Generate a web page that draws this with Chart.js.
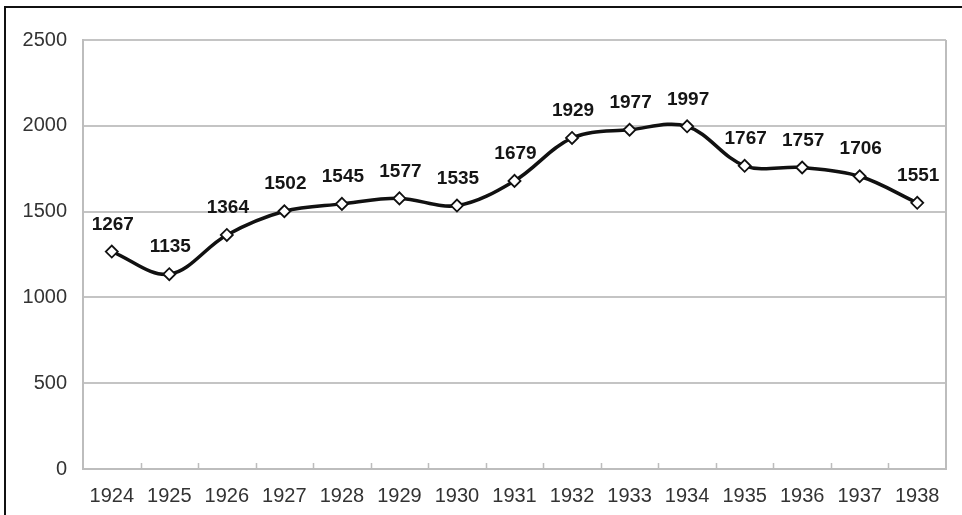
<!DOCTYPE html>
<html>
<head>
<meta charset="utf-8">
<script src="https://cdn.jsdelivr.net/npm/chart.js@4/dist/chart.umd.min.js"></script>
<style>
  html, body { margin: 0; padding: 0; background: #fff; }
  #wrap { position: relative; width: 962px; height: 515px; }
  #frame { position: absolute; left: 4px; top: 6px; right: 0; bottom: 0;
           border-left: 2px solid #111; border-top: 2px solid #111; pointer-events: none; }
  canvas { position: absolute; left: 0; top: 0; }
</style>
</head>
<body>
<div id="wrap">
  <canvas id="chart" width="962" height="515"></canvas>
  <div id="frame"></div>
</div>
<script>
const years = ['1924', '1925', '1926', '1927', '1928', '1929', '1930', '1931',
               '1932', '1933', '1934', '1935', '1936', '1937', '1938'];
const values = [1267, 1135, 1364, 1502, 1545, 1577, 1535, 1679,
                1929, 1977, 1997, 1767, 1757, 1706, 1551];
const yTicks = [0, 500, 1000, 1500, 2000, 2500];

const FONT = '"Liberation Sans", Arial, sans-serif';

// value labels above the points, right border, small x ticks pointing up
const extras = {
    id: 'extras',
    beforeDatasetsDraw(chart) {
        const { ctx, chartArea: a } = chart;
        ctx.save();
        ctx.strokeStyle = '#bdbdbd';
        ctx.lineWidth = 2;
        ctx.beginPath();
        ctx.moveTo(a.right, a.top);
        ctx.lineTo(a.right, a.bottom);
        ctx.stroke();
        // category boundary ticks
        const step = (a.right - a.left) / years.length;
        ctx.lineWidth = 1.5;
        ctx.beginPath();
        for (let i = 1; i < years.length; i++) {
            const px = Math.round(a.left + step * i) + 0.5;
            ctx.moveTo(px, a.bottom);
            ctx.lineTo(px, a.bottom - 6);
        }
        ctx.stroke();
        ctx.restore();
    },
    afterDatasetsDraw(chart) {
        const ctx = chart.ctx;
        const meta = chart.getDatasetMeta(0);
        ctx.save();
        ctx.font = 'bold 19px ' + FONT;
        ctx.fillStyle = '#151515';
        ctx.textAlign = 'center';
        ctx.textBaseline = 'middle';
        meta.data.forEach((pt, i) => {
            ctx.fillText(String(values[i]), pt.x + 1, pt.y - 27);
        });
        ctx.restore();
    }
};

new Chart(document.getElementById('chart'), {
    type: 'line',
    data: {
        labels: years,
        datasets: [{
            data: values,
            borderColor: '#111',
            borderWidth: 3.5,
            tension: 0.35,
            pointStyle: 'rectRot',
            pointRadius: 6,
            pointBackgroundColor: '#fff',
            pointBorderColor: '#111',
            pointBorderWidth: 1.8
        }]
    },
    options: {
        responsive: false,
        animation: false,
        layout: { padding: { top: 40, right: 16, left: 0, bottom: 0 } },
        plugins: { legend: { display: false }, tooltip: { enabled: false } },
        scales: {
            x: {
                offset: true,
                afterFit(s) { s.height = 46; },
                grid: { display: false },
                border: { display: true, color: '#bdbdbd', width: 2 },
                ticks: { color: '#333', font: { family: FONT, size: 20 }, padding: 7,
                         maxRotation: 0, autoSkip: false }
            },
            y: {
                min: 0,
                max: 2500,
                afterFit(s) { s.width = 83; },
                afterBuildTicks(s) { s.ticks = yTicks.map(v => ({ value: v })); },
                grid: { color: '#c4c4c4', lineWidth: 2, drawTicks: false },
                border: { display: true, color: '#bdbdbd', width: 2 },
                ticks: { color: '#333', font: { family: FONT, size: 20 }, padding: 16,
                         callback: v => String(v) }
            }
        }
    },
    plugins: [extras]
});
</script>
</body>
</html>
